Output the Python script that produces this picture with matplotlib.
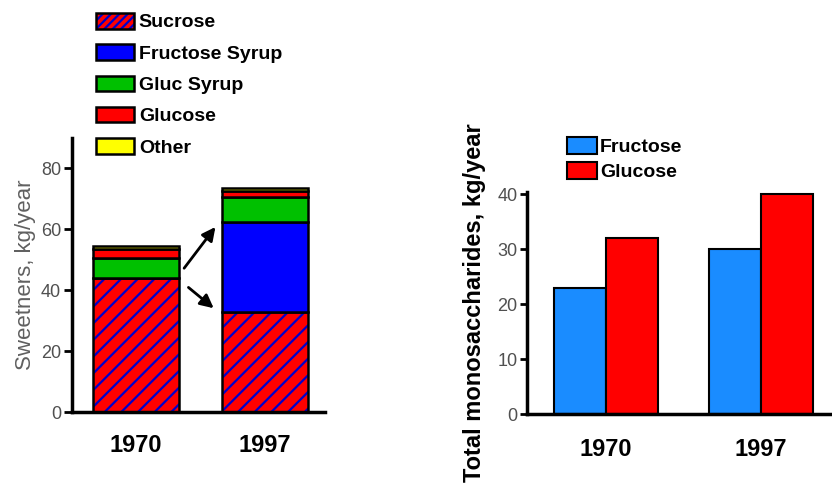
"""
Sweetener consumption (stacked) and total monosaccharides (grouped).
"""

import matplotlib
matplotlib.use("Agg")
import matplotlib.pyplot as plt
from matplotlib.patches import Patch
from matplotlib.legend_handler import HandlerTuple
import numpy as np

years = ["1970", "1997"]

# left panel: sweeteners, kg/year (stacked bottom to top)
sweet_names = ["Sucrose", "Fructose Syrup", "Gluc Syrup", "Glucose", "Other"]
sucrose = [44, 33]
fructose_syrup = [0, 29.5]
gluc_syrup = [6.5, 8]
glucose = [3, 2]
other = [1, 1.2]
sweet_colors = ["#ff0000", "#0000ff", "#00c000", "#ff0000", "#ffff00"]

# right panel: total monosaccharides, kg/year
mono_names = ["Fructose", "Glucose"]
mono_fructose = [23, 30]
mono_glucose = [32, 40]
mono_colors = ["#1a8cff", "#ff0000"]

plt.rcParams["font.family"] = ["Liberation Sans", "DejaVu Sans"]
plt.rcParams["hatch.linewidth"] = 1.6

fig = plt.figure(figsize=(8.32, 4.86), dpi=100)

# ---------------- left panel ----------------
ax1 = fig.add_axes([72 / 832, 1 - 412 / 486, 253 / 832, 274 / 486])
x = np.arange(len(years))
w = 0.67
stack = [sucrose, fructose_syrup, gluc_syrup, glucose, other]
bottom = np.zeros(len(years))
for i, (vals, col) in enumerate(zip(stack, sweet_colors)):
    vals = np.array(vals, dtype=float)
    if i == 0:
        # hatched red/blue sucrose: hatch drawn in blue, then black outline
        ax1.bar(x, vals, w, bottom=bottom, color=col, edgecolor="#0000cc",
                hatch="//", linewidth=0)
        ax1.bar(x, vals, w, bottom=bottom, color="none", edgecolor="black",
                linewidth=1.8)
    else:
        ax1.bar(x, vals, w, bottom=bottom, color=col, edgecolor="black",
                linewidth=1.8)
    bottom += vals

ax1.set_xlim(-0.5, 1.47)
ax1.set_ylim(0, 90)
ax1.set_yticks([0, 20, 40, 60, 80])
ax1.set_xticks(x)
ax1.set_xticklabels(years, fontsize=17, fontweight="bold")
ax1.tick_params(axis="x", length=0, pad=16)
ax1.tick_params(axis="y", length=6, width=2, labelsize=13, labelcolor="#505050",
                pad=2)
for s in ["top", "right"]:
    ax1.spines[s].set_visible(False)
for s in ["left", "bottom"]:
    ax1.spines[s].set_linewidth(2.5)
ax1.set_ylabel("Sweetners, kg/year", fontsize=16, color="#606060", labelpad=3)

# arrows from the 1970 sucrose to the 1997 sucrose / fructose syrup
ax1.annotate("", xy=(0.63, 61.5), xytext=(0.36, 46.5),
             arrowprops=dict(arrowstyle="-|>", color="black", lw=2,
                             mutation_scale=20))
ax1.annotate("", xy=(0.62, 33.5), xytext=(0.39, 41.5),
             arrowprops=dict(arrowstyle="-|>", color="black", lw=2,
                             mutation_scale=20))

handles = [(Patch(facecolor="#ff0000", edgecolor="#0000cc", hatch="////", lw=0),
            Patch(facecolor="none", edgecolor="black", lw=1.8))]
for col in sweet_colors[1:]:
    handles.append(Patch(facecolor=col, edgecolor="black", lw=1.8))
fig.legend(handles, sweet_names, loc="upper left",
           bbox_to_anchor=(96 / 832, 1 - 13 / 486), frameon=False,
           prop=dict(size=14, weight="bold"), handlelength=1.95,
           handleheight=0.85, handletextpad=0.25, labelspacing=0.66,
           borderpad=0, borderaxespad=0,
           handler_map={tuple: HandlerTuple(ndivide=1)})

# ---------------- right panel ----------------
ax2 = fig.add_axes([527 / 832, 1 - 414 / 486, 305 / 832, 222 / 486])
bw = 0.335
ax2.bar(x - bw / 2, mono_fructose, bw, color=mono_colors[0], edgecolor="black",
        linewidth=1.5, label=mono_names[0])
ax2.bar(x + bw / 2, mono_glucose, bw, color=mono_colors[1], edgecolor="black",
        linewidth=1.5, label=mono_names[1])
ax2.set_xlim(-0.51, 1.46)
ax2.set_ylim(0, 40.4)
ax2.set_yticks([0, 10, 20, 30, 40])
ax2.set_xticks(x)
ax2.set_xticklabels(years, fontsize=17, fontweight="bold")
ax2.tick_params(axis="x", length=0, pad=17)
ax2.tick_params(axis="y", length=5, width=2, labelsize=13, labelcolor="#505050",
                pad=2)
for s in ["top", "right"]:
    ax2.spines[s].set_visible(False)
for s in ["left", "bottom"]:
    ax2.spines[s].set_linewidth(2.5)
ax2.set_ylabel("Total monosaccharides, kg/year", fontsize=17, fontweight="bold",
               labelpad=8)
fig.legend(*ax2.get_legend_handles_labels(), loc="upper left",
           bbox_to_anchor=(567 / 832, 1 - 137 / 486), frameon=False,
           prop=dict(size=14, weight="bold"), handlelength=1.55,
           handleheight=0.95, handletextpad=0.15, labelspacing=0.3,
           borderpad=0, borderaxespad=0)

fig.savefig("out.png", dpi=100)
